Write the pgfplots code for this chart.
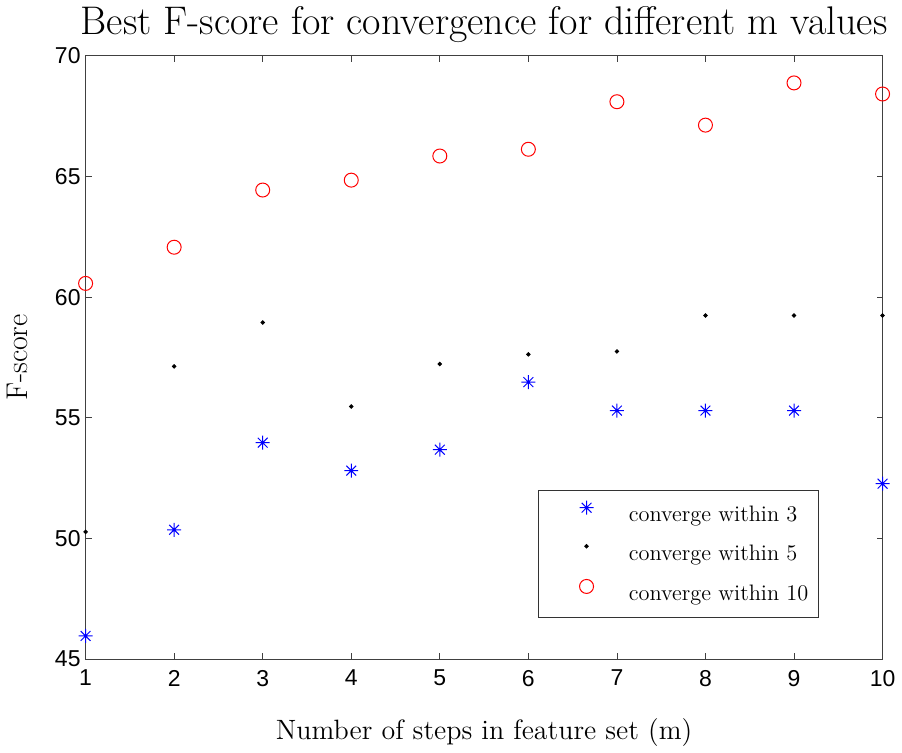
\documentclass[border=0pt]{standalone}
\usepackage{fontspec}
\usepackage{pgfplots}
\pgfplotsset{compat=1.18}
\newfontfamily\ticksf{Liberation Sans}

% MATLAB-style '*' marker: eight arms
\pgfdeclareplotmark{mstar}{%
  \pgfpathmoveto{\pgfqpoint{-\pgfplotmarksize}{0pt}}\pgfpathlineto{\pgfqpoint{\pgfplotmarksize}{0pt}}%
  \pgfpathmoveto{\pgfqpoint{0pt}{-\pgfplotmarksize}}\pgfpathlineto{\pgfqpoint{0pt}{\pgfplotmarksize}}%
  \pgfpathmoveto{\pgfqpoint{-.7\pgfplotmarksize}{-.7\pgfplotmarksize}}\pgfpathlineto{\pgfqpoint{.7\pgfplotmarksize}{.7\pgfplotmarksize}}%
  \pgfpathmoveto{\pgfqpoint{-.7\pgfplotmarksize}{.7\pgfplotmarksize}}\pgfpathlineto{\pgfqpoint{.7\pgfplotmarksize}{-.7\pgfplotmarksize}}%
  \pgfusepathqstroke}

\begin{document}
\begin{tikzpicture}
\begin{axis}[
    width=399pt, height=302pt, scale only axis,
    xmin=1, xmax=10, ymin=45, ymax=70,
    xtick={1,...,10}, ytick={45,50,...,70},
    tick align=inside, major tick length=3pt,
    axis line style={black!75, line width=0.5pt},
    every tick/.style={black!75},
    ticklabel style={font=\ticksf\fontsize{11.5}{13}\selectfont},
    yticklabel style={xshift=1pt},
    xticklabel style={yshift=-2pt},
    /pgf/number format/assume math mode=true,
    title={Best F-score for convergence for different m values},
    title style={font=\fontsize{20}{23}\selectfont, yshift=-3pt},
    xlabel={Number of steps in feature set (m)},
    ylabel={F-score},
    xlabel style={font=\fontsize{14}{16}\selectfont, yshift=-9pt},
    ylabel style={font=\fontsize{15}{17}\selectfont, yshift=7pt},
    clip=false,
    legend style={at={(0.92,0.068)}, anchor=south east, draw=black!80,
        font=\fontsize{11.2}{13}\selectfont, row sep=6pt,
        inner xsep=3pt, inner ysep=5pt},
    legend cell align=left,
    legend image code/.code={%
        \path (0pt,0pt) (40pt,0pt);
        \draw[#1] plot coordinates {(21pt,4pt)};},
]
\addplot[only marks, mark=mstar, mark size=3.5pt, color=blue, mark options={line width=0.5pt}]
coordinates {
    (1,45.96) (2,50.36) (3,53.97) (4,52.81) (5,53.68)
    (6,56.48) (7,55.30) (8,55.30) (9,55.30) (10,52.27)
};
\addlegendentry{converge within 3}
\addplot[only marks, mark=*, mark size=0.9pt, color=black]
coordinates {
    (1,50.27) (2,57.13) (3,58.95) (4,55.47) (5,57.23)
    (6,57.63) (7,57.75) (8,59.24) (9,59.24) (10,59.24)
};
\addlegendentry{converge within 5}
\addplot[only marks, mark=o, mark size=3.5pt, color=red, mark options={line width=0.5pt}]
coordinates {
    (1,60.57) (2,62.07) (3,64.44) (4,64.85) (5,65.85)
    (6,66.13) (7,68.10) (8,67.13) (9,68.88) (10,68.42)
};
\addlegendentry{converge within 10}
\end{axis}
\end{tikzpicture}
\end{document}
